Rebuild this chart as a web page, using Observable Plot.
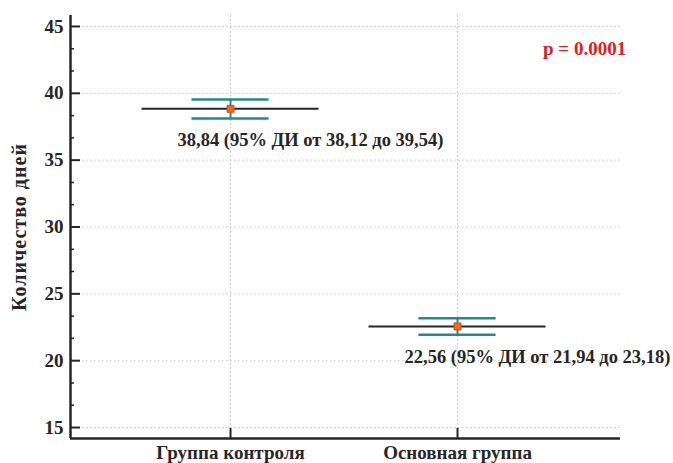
<!DOCTYPE html>
<html>
<head>
<meta charset="utf-8">
<script src="https://cdn.jsdelivr.net/npm/d3@7"></script>
<script src="https://cdn.jsdelivr.net/npm/@observablehq/plot@0.6"></script>
<style>
  html, body { margin: 0; padding: 0; background: #fff; }
  #chart svg { display: block; }
  #chart svg text { font-family: "Liberation Serif", "Times New Roman", serif; }
</style>
</head>
<body>
<div id="chart"></div>
<script>
const categories = ["Группа контроля", "Основная группа"];
const groupIndex = [1, 2];
const means = [38.84, 22.56];
const lows = [38.12, 21.94];
const highs = [39.54, 23.18];
const valueLabels = ["38,84 (95% ДИ от 38,12 до 39,54)", "22,56 (95% ДИ от 21,94 до 23,18)"];
const yTicks = [15, 20, 25, 30, 35, 40, 45];
const yMinorTicks = [16.67, 18.33, 21.67, 23.33, 26.67, 28.33, 31.67, 33.33, 36.67, 38.33, 41.67, 43.33];
const yLabel = "Количество дней";
const pText = "p = 0.0001";

const data = groupIndex.map((g, i) => ({
  g, cat: categories[i], mean: means[i], lo: lows[i], hi: highs[i], label: valueLabels[i]
}));

const xDomain = [0.295, 2.718];
const yDomain = [14.18, 45.82];
const font = "'Liberation Serif', 'Times New Roman', serif";
const ink = "#262626";
const teal = "#23898a";

const chart = Plot.plot({
  width: 673,
  height: 463,
  marginLeft: 70,
  marginRight: 53,
  marginTop: 15,
  marginBottom: 25,
  style: { fontFamily: font, fontWeight: "bold", background: "#fff", color: ink },
  x: { domain: xDomain, axis: null },
  y: { domain: yDomain, axis: null },
  marks: [
    Plot.gridY(yTicks, { stroke: "#aaa", strokeOpacity: 0.7, strokeDasharray: "1.5,2.5" }),
    Plot.gridX(groupIndex, { stroke: "#aaa", strokeOpacity: 0.7, strokeDasharray: "1.5,2.5" }),
    // axis lines
    Plot.ruleX([xDomain[0]], { stroke: ink, strokeWidth: 2.5 }),
    Plot.ruleY([yDomain[0]], { stroke: ink, strokeWidth: 2.5 }),
    // y ticks
    Plot.axisY({ ticks: yTicks, tickSize: -10, tickFormat: () => "", label: null, stroke: ink, strokeWidth: 2 }),
    Plot.axisY({ ticks: yMinorTicks, tickSize: -4, tickFormat: () => "", label: null, stroke: ink, strokeWidth: 1.5 }),
    Plot.axisY({ ticks: yTicks, tickSize: 0, tickPadding: 7, label: null, fontSize: 19, fontWeight: "bold", fontFamily: font, fill: ink }),
    // x ticks
    Plot.axisX({ ticks: groupIndex, tickSize: -10, tickFormat: () => "", label: null, stroke: ink, strokeWidth: 2 }),
    Plot.axisX({ ticks: groupIndex, tickSize: 0, tickPadding: 7, tickFormat: d => categories[d - 1], label: null, fontSize: 19, fontWeight: "bold", fontFamily: font, fill: ink }),
    // y label
    Plot.text([yLabel], { frameAnchor: "left", textAnchor: "middle", dx: -51, rotate: -90, fontSize: 20, fontWeight: "bold", fontFamily: font, fill: ink }),
    // mean lines
    Plot.ruleY(data, { y: "mean", x1: d => d.g - 0.39, x2: d => d.g + 0.39, stroke: ink, strokeWidth: 2 }),
    // CI
    Plot.ruleY(data, { y: "lo", x1: d => d.g - 0.17, x2: d => d.g + 0.17, stroke: teal, strokeWidth: 2.5 }),
    Plot.ruleY(data, { y: "hi", x1: d => d.g - 0.17, x2: d => d.g + 0.17, stroke: teal, strokeWidth: 2.5 }),
    Plot.ruleX(data, { x: "g", y1: "lo", y2: "hi", stroke: teal, strokeWidth: 2 }),
    Plot.dot(data, { x: "g", y: "mean", symbol: "square", r: 4, fill: "#f2661f", stroke: "#c24a10", strokeWidth: 0.8 }),
    // value labels
    Plot.text(data, { x: "g", y: "mean", text: "label", textAnchor: "start", dx: -53, dy: 31, fontSize: 18.5, fontWeight: "bold", fontFamily: font, fill: ink }),
    // p value
    Plot.text([pText], { x: 2.56, y: 43.35, fontSize: 19, fontWeight: "bold", fontFamily: font, fill: "#e0201b" })
  ]
});

// widen the rotated axis title slightly, as in the reference
d3.select(chart).selectAll("text").filter(function () { return this.textContent === yLabel; })
  .attr("letter-spacing", "1");

document.getElementById("chart").appendChild(chart);
</script>
</body>
</html>
